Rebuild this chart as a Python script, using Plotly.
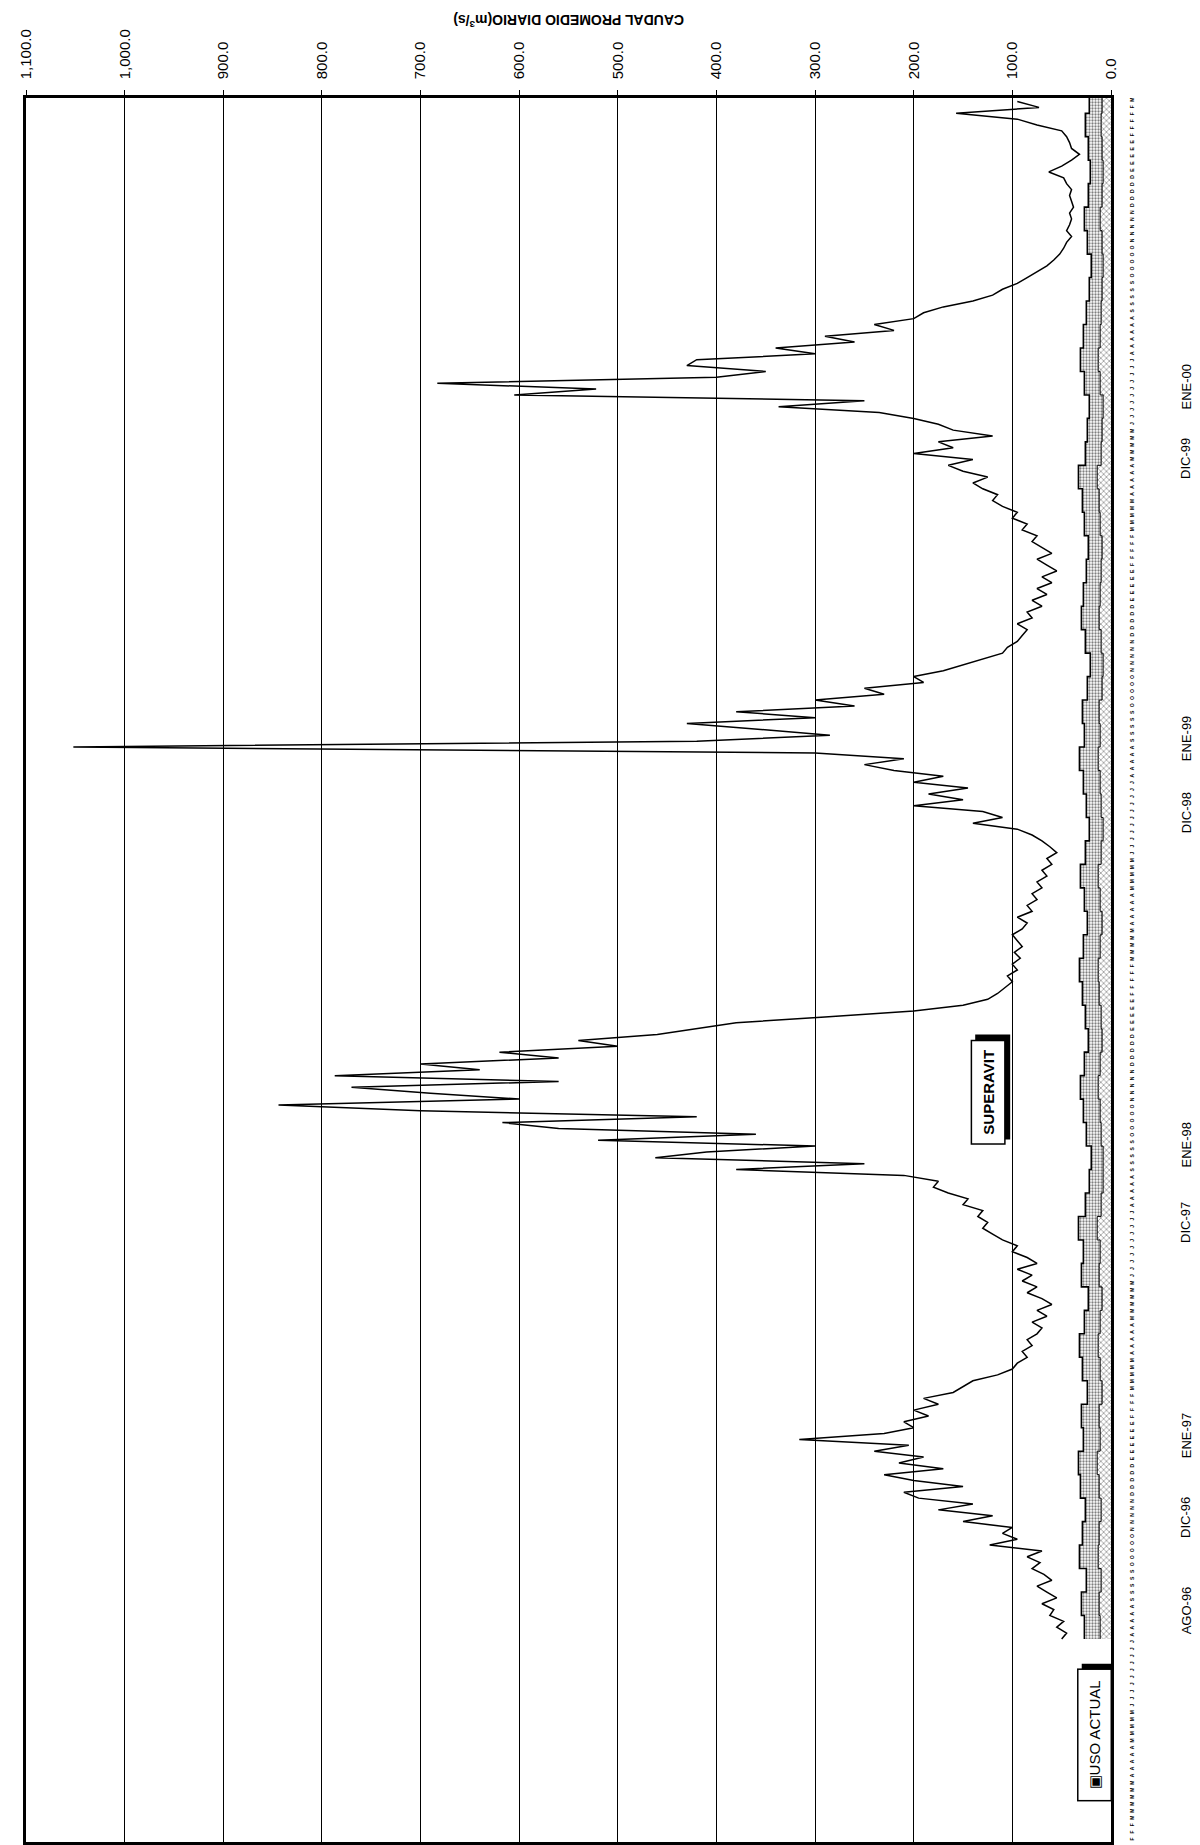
import plotly.graph_objects as go
import pandas as pd

# ---------------- data ----------------
inicio = pd.Timestamp("1996-08-01")
paso_dias = 5
caudal = [
    50, 45, 55, 48, 62, 58, 70, 55, 65, 75,
    60, 68, 80, 72, 85, 70, 123, 95, 110, 100,
    150, 120, 175, 140, 195, 210, 150, 200, 230, 170,
    215, 190, 240, 205, 316, 230, 200, 210, 185, 200,
    175, 190, 160, 150, 140, 115, 100, 95, 85, 90,
    80, 85, 75, 70, 80, 65, 75, 60, 70, 85,
    75, 90, 80, 95, 75, 85, 100, 95, 110, 120,
    130, 125, 135, 130, 150, 145, 165, 180, 175, 210,
    380, 250, 462, 410, 300, 520, 360, 560, 617, 420,
    700, 844, 600, 690, 770, 560, 787, 640, 700, 560,
    620, 500, 540, 460, 420, 380, 290, 200, 150, 125,
    115, 108, 100, 105, 95, 100, 92, 98, 90, 95,
    100, 90, 85, 95, 80, 85, 75, 80, 70, 75,
    65, 70, 60, 65, 55, 62, 70, 80, 95, 140,
    110, 130, 200, 150, 185, 145, 200, 170, 220, 250,
    210, 300, 1052, 420, 285, 355, 430, 300, 380, 260,
    300, 230, 250, 190, 200, 170, 150, 130, 110, 105,
    95, 90, 85, 95, 80, 85, 70, 80, 65, 75,
    60, 70, 55, 65, 75, 60, 70, 80, 75, 90,
    85, 100, 95, 110, 120, 115, 130, 140, 125, 150,
    165, 140, 200, 160, 175, 120, 160, 175, 200, 235,
    337, 250, 605, 522, 683, 400, 350, 430, 420, 300,
    340, 260, 290, 220, 240, 200, 190, 170, 140, 120,
    110, 95, 85, 75, 65, 58, 52, 48, 45, 40,
    45, 42, 40, 42, 38, 40, 42, 40, 45, 48,
    63, 50, 40, 32, 40, 42, 45, 50, 75, 95,
    157, 73, 95,
]
fechas = [inicio + pd.Timedelta(days=paso_dias * i) for i in range(len(caudal))]

paso_uso = 20
uso_actual = [
    27, 30, 25, 32, 29, 26, 31, 33, 28, 30,
    24, 29, 32, 27, 23, 30, 28, 33, 26, 22,
    20, 25, 28, 31, 27, 23, 26, 29, 32, 28,
    24, 27, 31, 26, 22, 25, 28, 32, 27, 29,
    24, 21, 26, 30, 28, 25, 23, 27, 29, 33,
    26, 24, 22, 27, 31, 28, 25, 22, 20, 24,
    27, 23, 21, 23, 26, 22, 24,
]
uso_base = [
    11, 12, 10, 13, 12, 10, 12, 14, 11, 12,
    9, 11, 13, 11, 9, 12, 11, 14, 10, 8,
    8, 10, 11, 13, 11, 9, 10, 12, 13, 11,
    9, 11, 13, 10, 8, 10, 11, 13, 11, 12,
    9, 8, 10, 12, 11, 10, 9, 11, 12, 14,
    10, 9, 8, 11, 13, 11, 10, 9, 8, 9,
    11, 9, 8, 9, 10, 9, 10,
]
fechas_uso = [inicio + pd.Timedelta(days=paso_uso * i) for i in range(len(uso_actual))]

x_tickvals = [0, 100, 200, 300, 400, 500, 600, 700, 800, 900, 1000, 1100]
x_ticktext = ["0.0", "100.0", "200.0", "300.0", "400.0", "500.0", "600.0",
              "700.0", "800.0", "900.0", "1,000.0", "1,100.0"]

meses = ["E", "F", "M", "A", "M", "J", "J", "A", "S", "O", "N", "D"]
y_tickvals = list(pd.date_range("1996-02-12", "2000-03-04", freq="6D"))
y_ticktext = [f"<b>{meses[d.month - 1]}</b>" for d in y_tickvals]

etiquetas_fecha = ["AGO-96", "DIC-96", "ENE-97", "DIC-97", "ENE-98",
                   "DIC-98", "ENE-99", "DIC-99", "ENE-00"]
etiquetas_pos = [0.118, 0.173, 0.219, 0.355, 0.400, 0.590, 0.633, 0.806, 0.849]

FONT = "Liberation Sans, Arial, sans-serif"

fig = go.Figure()

fig.add_trace(go.Scatter(
    x=uso_actual, y=fechas_uso, mode="lines", name="USO ACTUAL",
    line=dict(color="black", width=1.6, shape="vh"),
    fill="tozerox", fillcolor="white",
    fillpattern=dict(shape=".", fgcolor="black", bgcolor="white", size=3, solidity=0.45),
    showlegend=False,
))
fig.add_trace(go.Scatter(
    x=uso_base, y=fechas_uso, mode="lines", name="USO ACTUAL (base)",
    line=dict(color="black", width=1, shape="vh"),
    fill="tozerox", fillcolor="white",
    fillpattern=dict(shape="x", fgcolor="black", bgcolor="white", size=4, solidity=0.3),
    showlegend=False,
))

fig.add_trace(go.Scatter(
    x=caudal, y=fechas, mode="lines", name="SUPERAVIT",
    line=dict(color="black", width=1.5),
    showlegend=False,
))

fig.update_xaxes(
    range=[1100, 0], side="top",
    tickvals=x_tickvals, ticktext=x_ticktext, tickangle=-90,
    tickfont=dict(family=FONT, size=15, color="black"),
    ticks="outside", ticklen=5, tickcolor="black", tickwidth=1,
    ticklabelstandoff=8,
    showgrid=True, gridcolor="black", gridwidth=1,
    showline=True, linecolor="black", linewidth=2.5, mirror=True,
    zeroline=False,
)
fig.update_yaxes(
    type="date", range=["1996-02-10", "2000-03-06"], side="right",
    tickvals=y_tickvals, ticktext=y_ticktext, tickangle=-90,
    tickfont=dict(family=FONT, size=5, color="black"),
    ticks="", ticklabelstandoff=14,
    showgrid=False,
    showline=True, linecolor="black", linewidth=2.5, mirror=True,
    zeroline=False,
)

annotations = []
for txt, pos in zip(etiquetas_fecha, etiquetas_pos):
    annotations.append(dict(
        text=txt, xref="paper", yref="paper", x=1.078, y=pos,
        textangle=-90, showarrow=False,
        font=dict(family=FONT, size=13, color="black"),
    ))

annotations.append(dict(
    text="<b>CAUDAL PROMEDIO DIARIO(m<sup>3</sup>/s)</b>",
    xref="paper", yref="paper", x=0.50, y=1.0505, yanchor="top", textangle=180,
    showarrow=False, font=dict(family=FONT, size=14, color="black"),
))

# label boxes (white box + black drop shadow drawn as a pixel-sized shape)
shapes = []
cajas = [("<b>SUPERAVIT</b>", 125, "1997-11-10", 92),
         ("\u25a3USO ACTUAL", 17, "1996-05-11", 120)]
for label, xv, yv, largo in cajas:
    grosor = 22
    pad = 5
    bw = 1.5
    w = grosor + 2 * pad + 2 * bw
    h = largo + 2 * pad + 2 * bw
    sh = 5
    shapes.append(dict(
        type="rect", xref="x", yref="y", xsizemode="pixel", ysizemode="pixel",
        xanchor=xv, yanchor=yv,
        x0=-w / 2 + sh, x1=w / 2 + sh, y0=-h / 2 + sh, y1=h / 2 + sh,
        fillcolor="black", line=dict(color="black", width=0), layer="above",
    ))
    annotations.append(dict(
        text=label, x=xv, y=yv, xref="x", yref="y", textangle=-90,
        showarrow=False, width=largo, height=grosor,
        font=dict(family=FONT, size=15, color="black"),
        bgcolor="white", bordercolor="black", borderwidth=bw, borderpad=pad,
    ))

fig.update_layout(
    width=1200, height=1845,
    margin=dict(l=18, r=97, t=90, b=8),
    paper_bgcolor="white", plot_bgcolor="white",
    annotations=annotations, shapes=shapes,
    font=dict(family=FONT, color="black"),
)

fig.write_html("out.html")
